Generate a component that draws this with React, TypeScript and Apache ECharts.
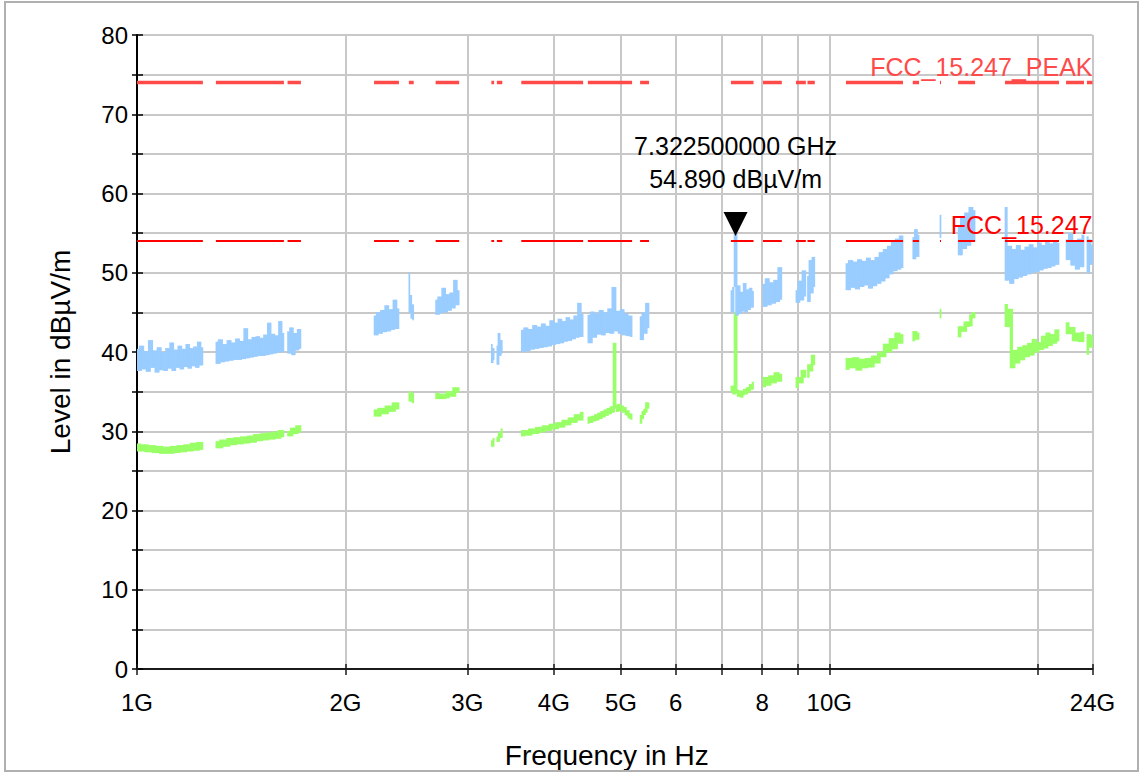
import React, { useEffect, useRef } from 'react';
import * as echarts from 'echarts';

const FONT = "'Liberation Sans', Arial, Helvetica, sans-serif";

// ---- axes ----
const xMin = 1; // GHz
const xMax = 24; // GHz
const xTickValues = [1, 2, 3, 4, 5, 6, 7, 8, 9, 10, 20, 24];
const xLabelValues = [1, 2, 3, 4, 5, 6, 8, 10, 24];
const xLabelTexts = ['1G', '2G', '3G', '4G', '5G', '6', '8', '10G', '24G'];
const yMin = 0;
const yMax = 80;
const yStep = 5;

// ---- limits & marker ----
const peakLimit = 74;
const avgLimit = 54;
const peakLimitName = 'FCC_15.247_PEAK';
const avgLimitName = 'FCC_15.247';
const markerFreqGHz = 7.3225;
const markerLevel = 54.89;

// ---- sweep segments (start/stop GHz) with peak & average readings ----
const rangeA = [1.0, 1.245];
const peakA = [40.4, 37.6, 40.8, 37.8, 40.1, 37.5, 41.5, 38.0, 40.2, 37.4, 40.6, 37.7, 40.0, 37.6, 40.5, 37.9, 41.2, 37.6, 40.3, 38.0, 40.8, 37.8, 40.4, 38.1, 41.0, 37.9, 40.5, 38.2, 40.7, 38.0, 41.3, 38.3, 40.6];
const avgA = [28.2, 27.7, 28.1, 27.6, 28.0, 27.5, 27.9, 27.4, 27.8, 27.4, 27.9, 27.5, 28.0, 27.6, 28.1, 27.7, 28.3, 27.8, 28.4, 27.9];

const rangeB1 = [1.30, 1.63];
const peakB1 = [41.3, 38.5, 41.6, 38.7, 41.0, 38.8, 41.5, 38.9, 41.2, 39.0, 41.7, 39.0, 41.4, 39.1, 43.0, 39.2, 41.6, 39.3, 41.9, 39.4, 42.0, 39.5, 41.8, 39.5, 42.2, 39.6, 43.7, 39.7, 42.3, 39.8, 42.1, 39.9, 43.9, 40.0, 42.4];
const avgB1 = [28.5, 28.1, 28.7, 28.3, 28.9, 28.5, 29.0, 28.6, 29.1, 28.7, 29.2, 28.8, 29.4, 29.0, 29.5, 29.1, 29.6, 29.2, 29.7, 29.3, 29.9, 29.5];

const rangeB2 = [1.65, 1.725];
const peakB2 = [42.6, 39.8, 43.1, 39.6, 42.4, 40.2, 42.9, 40.4];
const avgB2 = [29.8, 29.6, 30.2, 29.9, 30.5, 30.1];

const rangeC = [2.20, 2.39];
const peakC = [44.6, 42.1, 45.0, 42.3, 45.3, 42.5, 45.9, 42.6, 45.4, 42.8, 46.6, 42.9, 45.5];
const avgC = [32.5, 32.1, 32.7, 32.4, 33.0, 32.7, 33.4, 33.0];

const rangeC2 = [2.47, 2.51];
const peakC2 = [50.0, 45.0, 47.2, 44.2, 46.0, 44.0];
const avgC2 = [34.8, 34.0, 34.6, 33.8];

const rangeD = [2.70, 2.92];
const peakD = [46.6, 44.7, 47.0, 44.9, 48.1, 45.0, 47.3, 45.2, 47.5, 45.5, 49.1, 45.9, 47.8];
const avgD = [34.6, 34.3, 34.5, 34.4, 34.8, 34.6, 35.3, 35.1];

const rangeE1 = [3.25, 3.28];
const peakE1 = [41.0, 38.6, 40.5, 39.0];
const avgE1 = [28.6, 28.3, 28.9];

const rangeE2 = [3.31, 3.37];
const peakE2 = [40.8, 38.4, 42.4, 39.5, 41.5, 39.8];
const avgE2 = [29.1, 28.9, 29.6, 29.4, 30.1];

const rangeF = [3.59, 4.41];
const peakF = [42.8, 40.0, 43.1, 40.1, 42.9, 40.3, 43.4, 40.4, 43.2, 40.5, 43.6, 40.6, 43.3, 40.7, 44.0, 40.9, 43.7, 41.0, 44.2, 41.1, 43.9, 41.3, 44.4, 41.4, 44.1, 41.6, 44.6, 41.8, 46.2, 41.9, 44.8];
const avgF = [29.6, 29.9, 29.7, 30.1, 29.9, 30.3, 30.1, 30.5, 30.3, 30.7, 30.5, 30.9, 30.7, 31.2, 31.0, 31.5, 31.3, 31.9, 31.6, 32.2];

const rangeG = [4.48, 5.19];
const peakG = [44.7, 41.1, 45.1, 41.8, 44.9, 42.2, 45.3, 42.1, 45.0, 42.4, 45.5, 42.3, 48.2, 42.6, 45.2, 42.3, 45.4, 42.1, 44.9, 42.0, 44.6, 41.9];
const avgG = [31.2, 31.6, 31.3, 31.7, 31.5, 31.9, 31.6, 32.1, 31.8, 32.3, 32.0, 32.5, 32.2, 32.7, 32.4, 32.9, 32.6, 40.9, 33.1, 32.7, 33.2, 32.8, 33.0, 32.6, 32.8, 32.3, 32.4, 31.9, 32.0, 31.7];

const rangeH = [5.33, 5.49];
const peakH = [44.5, 41.5, 45.0, 42.3, 46.2, 43.0];
const avgH = [31.2, 31.8, 32.3, 32.6, 33.4, 33.1];

const rangeI = [7.21, 7.7725];
const peakI = [47.8, 45.0, 48.2, 54.89, 44.6, 48.4, 44.8, 47.6, 45.1, 48.7, 45.0, 47.9, 45.3, 48.1, 45.6, 47.7];
const avgI = [35.2, 35.5, 34.9, 44.7, 35.0, 34.6, 34.9, 34.5, 34.8, 35.1, 34.9, 35.3, 35.2, 35.7, 35.5, 36.0];

const rangeJ = [8.02, 8.54];
const peakJ = [48.6, 45.7, 49.3, 45.9, 48.8, 46.1, 49.1, 46.3, 50.7, 46.6];
const avgJ = [35.8, 36.6, 36.0, 36.8, 36.3, 37.2, 36.5, 37.0];

const rangeK1 = [8.95, 9.25];
const peakK1 = [47.8, 46.2, 49.0, 46.5, 50.3, 47.0];
const avgK1 = [35.7, 36.6, 36.3, 37.5, 37.0];

const rangeK2 = [9.30, 9.53];
const peakK2 = [49.6, 46.3, 51.6, 47.4, 52.0, 48.2];
const avgK2 = [37.0, 38.2, 37.8, 39.4, 38.6];

const rangeL = [10.57, 12.78];
const peakL = [51.2, 47.8, 51.6, 48.1, 51.4, 47.9, 51.7, 48.2, 51.5, 48.4, 51.9, 48.0, 51.6, 48.3, 52.0, 48.6, 52.6, 48.9, 53.0, 49.3, 53.4, 49.8, 54.0, 50.2, 54.3, 50.4, 54.7, 50.6];
const avgL = [38.0, 39.0, 38.2, 39.1, 37.9, 38.9, 38.2, 39.0, 38.3, 39.3, 38.8, 39.8, 39.6, 40.8, 40.2, 41.5, 40.6, 42.2, 41.3, 42.0];

const rangeM = [13.2, 13.48];
const peakM = [54.5, 51.7, 55.5, 52.0, 54.8];
const avgM = [41.6, 42.4, 41.8, 42.2];

const rangeN = [14.45, 14.5];
const peakN = [57.3, 54.4];
const avgN = [45.2, 44.5];

const rangeO = [15.35, 16.24];
const peakO = [55.8, 52.2, 56.9, 53.0, 57.6, 53.4, 58.3, 54.0, 57.9];
const avgO = [42.1, 43.0, 42.8, 43.6, 43.5, 44.5, 44.8];

const rangeP = [17.94, 21.47];
const peakP = [58.3, 49.0, 53.4, 48.6, 53.0, 49.2, 53.5, 49.4, 52.9, 49.6, 53.3, 49.8, 53.6, 50.0, 53.2, 50.1, 53.8, 50.3, 53.5, 50.5, 54.0, 50.6, 53.7, 50.8, 54.1, 51.0, 53.8];
const avgP = [45.8, 43.4, 45.2, 38.2, 40.0, 38.8, 40.4, 39.2, 40.6, 39.6, 40.9, 39.8, 41.4, 40.2, 41.0, 40.5, 41.8, 40.7, 42.2, 41.0, 42.0, 41.3, 42.6, 41.6];

const rangeQ1 = [21.98, 23.33];
const peakQ1 = [54.2, 51.6, 55.0, 50.9, 53.9, 50.4, 54.3, 50.7, 54.8];
const avgQ1 = [43.5, 42.5, 42.9, 41.6, 42.2, 41.5, 42.3];

const rangeQ2 = [23.56, 24.0];
const peakQ2 = [54.6, 50.0, 54.2, 51.0, 53.5];
const avgQ2 = [39.9, 42.0, 40.8, 41.9];

const sweeps = [
  { range: rangeA, peak: peakA, avg: avgA },
  { range: rangeB1, peak: peakB1, avg: avgB1 },
  { range: rangeB2, peak: peakB2, avg: avgB2 },
  { range: rangeC, peak: peakC, avg: avgC },
  { range: rangeC2, peak: peakC2, avg: avgC2 },
  { range: rangeD, peak: peakD, avg: avgD },
  { range: rangeE1, peak: peakE1, avg: avgE1 },
  { range: rangeE2, peak: peakE2, avg: avgE2 },
  { range: rangeF, peak: peakF, avg: avgF },
  { range: rangeG, peak: peakG, avg: avgG },
  { range: rangeH, peak: peakH, avg: avgH },
  { range: rangeI, peak: peakI, avg: avgI },
  { range: rangeJ, peak: peakJ, avg: avgJ },
  { range: rangeK1, peak: peakK1, avg: avgK1 },
  { range: rangeK2, peak: peakK2, avg: avgK2 },
  { range: rangeL, peak: peakL, avg: avgL },
  { range: rangeM, peak: peakM, avg: avgM },
  { range: rangeN, peak: peakN, avg: avgN },
  { range: rangeO, peak: peakO, avg: avgO },
  { range: rangeP, peak: peakP, avg: avgP },
  { range: rangeQ1, peak: peakQ1, avg: avgQ1 },
  { range: rangeQ2, peak: peakQ2, avg: avgQ2 },
];

// sweep points are evenly spaced in frequency within a segment
function sweepPoints(range: number[], values: number[]) {
  const [f0, f1] = range;
  const n = values.length;
  return values.map((v, i) => [n > 1 ? f0 + ((f1 - f0) * i) / (n - 1) : f0, v]);
}

// consecutive sweep points: [f_i, v_i, f_i+1, v_i+1]
function cellData(key: 'peak' | 'avg') {
  const out: number[][] = [];
  sweeps.forEach((s) => {
    const pts = sweepPoints(s.range, s[key]);
    for (let i = 0; i < pts.length - 1; i++) {
      out.push([pts[i][0], pts[i][1], pts[i + 1][0], pts[i + 1][1]]);
    }
  });
  return out;
}

function limitData(level: number) {
  const out: any[] = [];
  sweeps.forEach((s) => {
    out.push([s.range[0], level]);
    out.push([s.range[1], level]);
    out.push([s.range[1], null]);
  });
  return out;
}

const COLOR_PEAK = '#99CCFF';
const COLOR_AVG = '#99FF66';
const COLOR_PEAK_LIMIT = '#FF4A4A';
const COLOR_AVG_LIMIT = '#FF0000';
const GRID_COLOR = '#c8c8c8';
const AXIS_COLOR = '#1a1a1a';

function xLabelFormatter(v: number) {
  const i = xLabelValues.findIndex((x) => Math.abs(x - v) < 1e-3 * x);
  return i >= 0 ? xLabelTexts[i] : '';
}

// filled min/max cell between two consecutive readings
function cellRenderer(color: string, pad: number) {
  return (params: any, api: any) => {
    const a = api.coord([api.value(0), api.value(1)]);
    const b = api.coord([api.value(2), api.value(3)]);
    const x0 = Math.min(a[0], b[0]);
    const x1 = Math.max(a[0], b[0]);
    const y0 = Math.min(a[1], b[1]);
    const y1 = Math.max(a[1], b[1]);
    return {
      type: 'rect',
      shape: {
        x: x0 - 0.35,
        y: y0 - pad,
        width: x1 - x0 + 0.7,
        height: Math.max(y1 - y0, 1.5) + 2 * pad,
      },
      style: { fill: color },
    };
  };
}

export default function App() {
  const ref = useRef<HTMLDivElement>(null);

  useEffect(() => {
    if (!ref.current) return;
    const chart = echarts.init(ref.current, undefined, { renderer: 'svg' });

    const baseX = {
      type: 'log',
      logBase: 10,
      min: xMin,
      max: xMax,
      gridIndex: 0,
      position: 'bottom',
    };
    const baseY = {
      type: 'value',
      min: yMin,
      max: yMax,
      interval: yStep,
      gridIndex: 0,
      position: 'left',
    };

    const markerText =
      markerFreqGHz.toFixed(9) + ' GHz\n' + markerLevel.toFixed(3) + ' dBµV/m';

    const option: any = {
      animation: false,
      backgroundColor: '#ffffff',
      textStyle: { fontFamily: FONT },
      grid: { left: 137, right: 50.5, top: 35, bottom: 105, containLabel: false },
      xAxis: [
        {
          ...baseX,
          name: 'Frequency in Hz',
          nameLocation: 'middle',
          nameGap: 72,
          nameTextStyle: { fontSize: 28, color: '#000', fontFamily: FONT, padding: [0, 16, 0, 0] },
          axisLine: { show: true, onZero: false, lineStyle: { color: AXIS_COLOR, width: 2 } },
          axisTick: { show: true, customValues: xTickValues, length: 6, lineStyle: { color: AXIS_COLOR, width: 1.5 } },
          axisLabel: {
            show: true,
            customValues: xLabelValues,
            formatter: xLabelFormatter,
            fontSize: 24,
            color: '#000',
            margin: 21,
            fontFamily: FONT,
          },
          splitLine: { show: true, lineStyle: { color: GRID_COLOR, width: 2 } },
          minorTick: { show: false },
          minorSplitLine: { show: false },
        },
        {
          ...baseX,
          axisLine: { show: false },
          axisTick: { show: true, inside: true, customValues: xTickValues, length: 5, lineStyle: { color: AXIS_COLOR, width: 1.5 } },
          axisLabel: { show: false },
          splitLine: { show: false },
        },
      ],
      yAxis: [
        {
          ...baseY,
          name: 'Level in dBµV/m',
          nameLocation: 'middle',
          nameGap: 63,
          nameRotate: 90,
          nameTextStyle: { fontSize: 28, color: '#000', fontFamily: FONT },
          axisLine: { show: true, onZero: false, lineStyle: { color: '#000', width: 2 } },
          axisTick: { show: true, length: 5, lineStyle: { color: '#000', width: 1.5 } },
          axisLabel: {
            formatter: (v: number) => (v % 10 === 0 ? String(v) : ''),
            fontSize: 24,
            color: '#000',
            margin: 9,
            fontFamily: FONT,
            padding: [5, 0, 0, 0],
          },
          splitLine: { show: true, lineStyle: { color: GRID_COLOR, width: 2 } },
        },
        {
          ...baseY,
          axisLine: { show: false },
          axisTick: { show: true, inside: true, length: 6, lineStyle: { color: '#000', width: 1.5 } },
          axisLabel: { show: false },
          splitLine: { show: false },
        },
      ],
      series: [
        {
          name: 'Average',
          type: 'custom',
          xAxisIndex: 0,
          yAxisIndex: 0,
          data: cellData('avg'),
          encode: { x: [0, 2], y: [1, 3] },
          renderItem: cellRenderer(COLOR_AVG, 2),
          clip: true,
          silent: true,
          z: 2,
        },
        {
          name: 'Peak',
          type: 'custom',
          xAxisIndex: 0,
          yAxisIndex: 0,
          data: cellData('peak'),
          encode: { x: [0, 2], y: [1, 3] },
          renderItem: cellRenderer(COLOR_PEAK, 0),
          clip: true,
          silent: true,
          z: 3,
        },
        {
          name: peakLimitName,
          type: 'line',
          xAxisIndex: 0,
          yAxisIndex: 0,
          data: limitData(peakLimit),
          symbol: 'none',
          showSymbol: false,
          connectNulls: false,
          silent: true,
          lineStyle: { color: COLOR_PEAK_LIMIT, width: 3.5 },
          z: 4,
          markPoint: {
            silent: true,
            symbol: 'circle',
            symbolSize: 1,
            itemStyle: { color: 'rgba(0,0,0,0)' },
            data: [
              {
                coord: [xMax, peakLimit],
                label: {
                  show: true,
                  position: 'top',
                  distance: 3,
                  align: 'right',
                  formatter: peakLimitName,
                  fontSize: 25,
                  color: COLOR_PEAK_LIMIT,
                  fontFamily: FONT,
                },
              },
            ],
          },
        },
        {
          name: avgLimitName,
          type: 'line',
          xAxisIndex: 0,
          yAxisIndex: 0,
          data: limitData(avgLimit),
          symbol: 'none',
          showSymbol: false,
          connectNulls: false,
          silent: true,
          lineStyle: { color: COLOR_AVG_LIMIT, width: 2 },
          z: 4,
          markPoint: {
            silent: true,
            symbol: 'circle',
            symbolSize: 1,
            itemStyle: { color: 'rgba(0,0,0,0)' },
            data: [
              {
                coord: [xMax, avgLimit],
                label: {
                  show: true,
                  position: 'top',
                  distance: 3,
                  align: 'right',
                  formatter: avgLimitName,
                  fontSize: 25,
                  color: COLOR_AVG_LIMIT,
                  fontFamily: FONT,
                },
              },
            ],
          },
        },
        {
          name: 'Marker',
          type: 'line',
          xAxisIndex: 0,
          yAxisIndex: 0,
          data: [],
          silent: true,
          z: 6,
          markPoint: {
            silent: true,
            data: [
              {
                coord: [markerFreqGHz, markerLevel],
                symbol: 'path://M0,0L24,0L12,24Z',
                symbolSize: [24, 24],
                symbolOffset: [0, -10],
                itemStyle: { color: '#000' },
                label: {
                  show: true,
                  position: 'top',
                  distance: 16,
                  formatter: markerText,
                  fontSize: 25,
                  lineHeight: 33,
                  color: '#000',
                  align: 'center',
                  fontFamily: FONT,
                },
              },
            ],
          },
        },
      ],
    };

    chart.setOption(option);
    return () => chart.dispose();
  }, []);

  return (
    <div style={{ position: 'fixed', left: 0, top: 0, width: 1143, height: 774, background: '#fff' }}>
      <div ref={ref} style={{ position: 'absolute', left: 0, top: 0, width: 1143, height: 774 }} />
      <div
        style={{
          position: 'absolute',
          left: 4,
          top: 1,
          width: 1131,
          height: 767,
          border: '2px solid #b0b0b0',
          pointerEvents: 'none',
        }}
      />
    </div>
  );
}
